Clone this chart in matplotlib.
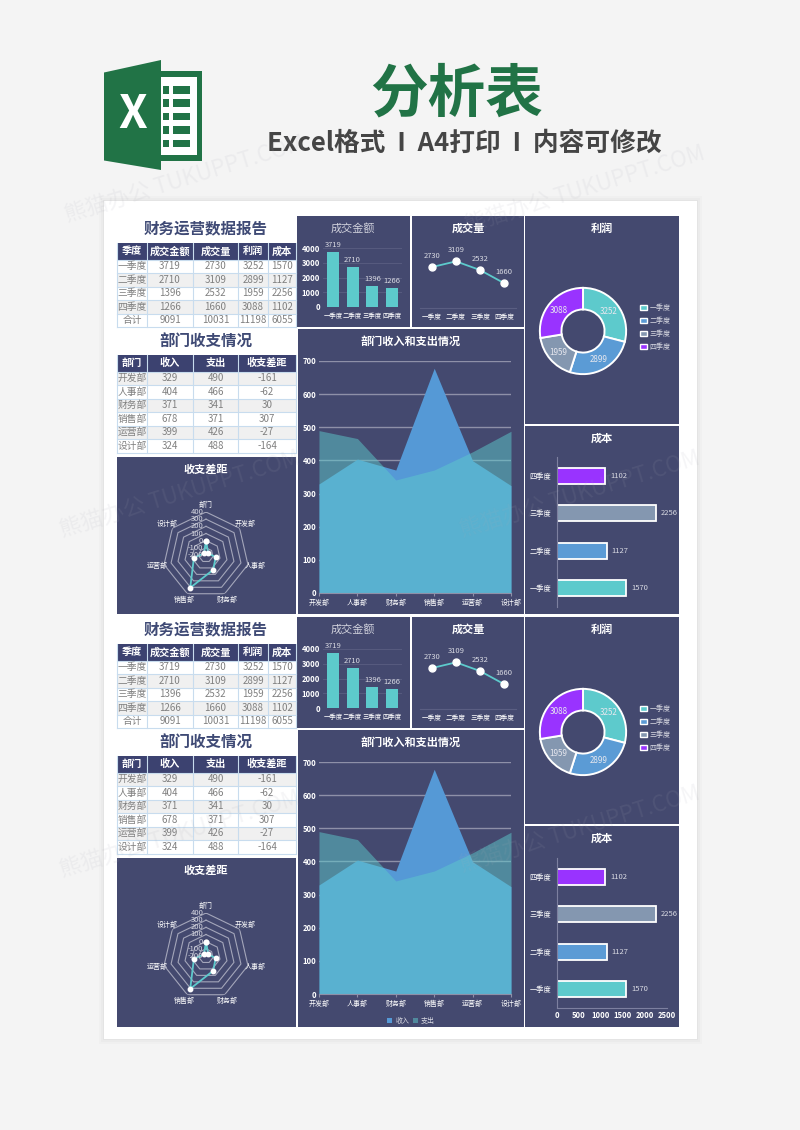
import numpy as np
import matplotlib
matplotlib.use('Agg')
import matplotlib.pyplot as plt
from matplotlib.patches import Rectangle, Polygon, Patch

plt.rcParams['font.family'] = ['Noto Sans CJK SC', 'DejaVu Sans']

W, H = 800, 1130

quarters = ['一季度', '二季度', '三季度', '四季度']
amount = [3719, 2710, 1396, 1266]
volume = [2730, 3109, 2532, 1660]
profit = [3252, 2899, 1959, 3088]
cost = [1570, 1127, 2256, 1102]
totals = ['9091', '10031', '11198', '6055']

depts = ['开发部', '人事部', '财务部', '销售部', '运营部', '设计部']
income = [329, 404, 371, 678, 399, 324]
expense = [490, 466, 341, 371, 426, 488]
diff = [-161, -62, 30, 307, -27, -164]

radar_labels = ['部门'] + depts
radar_values = [0] + diff

quarter_colors = ['#5dcacc', '#5b9bd5', '#8497b0', '#9933ff']

PANEL = '#44496f'
HEAD = '#3c4270'
TEAL = '#5dcacc'
BLUE = '#5599d6'
SOFT = '#d8d9e2'

fig = plt.figure(figsize=(W / 100, H / 100), dpi=100, facecolor='#f4f4f4')

bg = fig.add_axes([0, 0, 1, 1], zorder=-1)
bg.set_xlim(0, W)
bg.set_ylim(H, 0)
bg.axis('off')


def px_axes(x0, y0, x1, y1, **kw):
    a = fig.add_axes([x0 / W, 1 - y1 / H, (x1 - x0) / W, (y1 - y0) / H], **kw)
    a.patch.set_alpha(0)
    return a


def box(x0, y0, x1, y1, color, **kw):
    bg.add_patch(Rectangle((x0, y0), x1 - x0, y1 - y0, facecolor=color, edgecolor='none', **kw))


def label(x, y, s, size=5.5, color='white', weight='normal', **kw):
    bg.text(x, y, s, fontsize=size, color=color, fontweight=weight, ha='center', va='center', **kw)


def draw_table(edges, top, head_h, row_h, header, rows, stripe_first):
    for j, name in enumerate(header):
        box(edges[j], top, edges[j + 1], top + head_h, HEAD)
        label((edges[j] + edges[j + 1]) / 2, top + head_h / 2, name, 7.3, 'white', 'bold')
    for i, row in enumerate(rows):
        y0 = top + head_h + i * row_h
        striped = (i % 2 == 0) == stripe_first
        box(edges[0], y0, edges[-1], y0 + row_h, '#f0f0f0' if striped else 'white')
        for j, val in enumerate(row):
            label((edges[j] + edges[j + 1]) / 2, y0 + row_h / 2, str(val), 7, '#808080')
    bottom = top + head_h + len(rows) * row_h
    for i in range(len(rows) + 1):
        yy = top + head_h + i * row_h
        bg.plot([edges[0], edges[-1]], [yy, yy], color='#c8dcee', lw=0.8)
    for x in edges:
        bg.plot([x, x], [top, bottom], color='#c8dcee', lw=0.8)


def style_ticks(a, cat_size=4.8):
    a.tick_params(colors='white', length=0, pad=2)
    for t in a.get_xticklabels() + a.get_yticklabels():
        t.set_color('white')
        if t.get_text().lstrip('-').isdigit():
            t.set_fontweight('bold')
            t.set_fontsize(5.5)
        else:
            t.set_fontsize(cat_size)


def draw_amount(off):
    a = px_axes(323, 248 + off, 402, 307 + off)
    x = np.arange(len(quarters))
    a.set_axisbelow(True)
    a.bar(x, amount, width=0.6, color=TEAL)
    a.set_xlim(-0.5, 3.5)
    a.set_ylim(0, 4000)
    a.set_yticks([0, 1000, 2000, 3000, 4000])
    a.set_xticks(x, quarters)
    a.grid(axis='y', color='#5a5e82', lw=0.6)
    for s in a.spines.values():
        s.set_visible(False)
    style_ticks(a, 4.6)
    a.tick_params(axis='x', pad=3.5)
    for xi, v in zip(x, amount):
        a.annotate(str(v), (xi, v), xytext=(0, 2.5), textcoords='offset points', color=SOFT,
                   fontsize=5.5, ha='center', va='bottom', annotation_clip=False)


def draw_volume(off):
    a = px_axes(420, 233 + off, 516, 308 + off)
    x = np.arange(len(quarters))
    a.plot(x, volume, color=TEAL, lw=1.3, marker='o', ms=5, mfc='white', mec='white')
    a.set_xlim(-0.5, 3.5)
    a.set_ylim(0, 5000)
    a.set_yticks([])
    a.set_xticks(x, quarters)
    for name, s in a.spines.items():
        s.set_visible(name == 'bottom')
    a.spines['bottom'].set_color('#5a5e82')
    style_ticks(a, 4.8)
    a.tick_params(axis='x', pad=3.5)
    for xi, v in zip(x, volume):
        a.annotate(str(v), (xi, v), xytext=(0, 5), textcoords='offset points', color=SOFT,
                   fontsize=5.5, ha='center', va='bottom')


def draw_donut(cy, legend_y):
    a = px_axes(583 - 44, cy - 44, 583 + 44, cy + 44)
    wedges, _, autos = a.pie(profit, colors=quarter_colors, startangle=90, counterclock=False,
                             radius=1, autopct='%d', pctdistance=0.75,
                             wedgeprops=dict(width=0.5, edgecolor='white', linewidth=1.4))
    for t, v in zip(autos, profit):
        t.set_text(str(v))
        t.set_color('#e6e7ee')
        t.set_fontsize(5.8)
    a.set_xlim(-1.02, 1.02)
    a.set_ylim(-1.02, 1.02)
    handles = [Patch(facecolor=c, edgecolor='white', lw=1) for c in quarter_colors]
    a.legend(handles, quarters, loc='center left', bbox_to_anchor=(634 / W, 1 - legend_y / H),
             bbox_transform=fig.transFigure, frameon=False, fontsize=5, labelcolor=SOFT,
             handlelength=0.9, handleheight=0.9, handletextpad=0.45, labelspacing=0.72)


def draw_cost(top, bottom, show_x):
    a = px_axes(557, top, 667, bottom)
    y = np.arange(len(quarters))
    a.barh(y, cost, height=0.42, color=quarter_colors, edgecolor='white', lw=1.3)
    a.set_xlim(0, 2500)
    a.set_ylim(-0.5, 3.5)
    a.set_yticks(y, quarters)
    a.set_xticks([0, 500, 1000, 1500, 2000, 2500] if show_x else [])
    for name, s in a.spines.items():
        s.set_visible(name == 'left' or (name == 'bottom' and show_x))
        s.set_color('#7d80a0')
    style_ticks(a, 5.2)
    a.tick_params(axis='y', pad=4)
    for yi, v in zip(y, cost):
        a.annotate(str(v), (v, yi), xytext=(3.5, 0), textcoords='offset points', color=SOFT,
                   fontsize=5.5, va='center', annotation_clip=False)


def draw_area(y700, y0, show_legend):
    a = px_axes(319, y700, 511, y0)
    x = np.arange(len(depts))
    a.set_axisbelow(True)
    a.fill_between(x, income, color=BLUE, lw=0, label='收入')
    a.fill_between(x, expense, color=TEAL, alpha=0.5, lw=0, label='支出')
    a.set_xlim(0, 5)
    a.set_ylim(0, 700)
    a.set_xticks(x, depts)
    a.set_yticks(range(0, 701, 100))
    a.grid(axis='y', color='#8e90a8', lw=1)
    for name, s in a.spines.items():
        s.set_visible(name == 'bottom')
    a.spines['bottom'].set_color('#8e90a8')
    style_ticks(a, 5)
    a.tick_params(axis='x', length=2, color='#8e90a8')
    if show_legend:
        a.legend(loc='center', bbox_to_anchor=(411 / W, 1 - 1021 / H), bbox_transform=fig.transFigure,
                 ncol=2, frameon=False, fontsize=5, labelcolor=SOFT, handlelength=0.8,
                 handleheight=0.8, handletextpad=0.4, columnspacing=0.5)


def draw_radar(cy):
    R = 43
    a = px_axes(206 - R, cy - R, 206 + R, cy + R, projection='polar')
    ang = np.linspace(0, 2 * np.pi, len(radar_labels), endpoint=False)
    closed = np.append(ang, ang[0])
    a.set_theta_zero_location('N')
    a.set_theta_direction(-1)
    a.set_ylim(-200, 400)
    levels = [-200, -100, 0, 100, 200, 300, 400]
    for lv in levels[1:]:
        a.plot(closed, [lv] * len(closed), color='#a4a6ba', lw=0.8)
    a.plot(closed, radar_values + radar_values[:1], color=TEAL, lw=1.3, marker='o', ms=3.2,
           mfc='white', mec='white')
    a.grid(False)
    a.spines['polar'].set_visible(False)
    a.set_xticks([])
    a.set_yticks([])
    for th, name in zip(ang, radar_labels):
        a.text(th, 498, name, color='white', fontsize=5, ha='center', va='center', clip_on=False)
    for lv in levels:
        a.annotate(str(lv), (0, lv), xytext=(-2, 0), textcoords='offset points', color=SOFT,
                   fontsize=5.5, ha='right', va='center', annotation_clip=False)


def draw_block(off, area_bottom, radar_bottom, y700, y0, cost_top, cost_bottom, bottom_full, pie_bottom, cost_panel_top):
    # left tables
    label(206, 228 + off, '财务运营数据报告', 11.2, '#3f4a75', 'bold')
    rows1 = [[q, a_, v, p, c] for q, a_, v, p, c in zip(quarters, amount, volume, profit, cost)]
    rows1.append(['合计'] + totals)
    draw_table([117, 147, 193, 238, 268, 296], 243 + off, 16.5, 13.5,
               ['季度', '成交金额', '成交量', '利润', '成本'], rows1, False)
    label(206, 342 + off, '部门收支情况', 11.2, '#3f4a75', 'bold')
    rows2 = [[d, i, e, g] for d, i, e, g in zip(depts, income, expense, diff)]
    draw_table([117, 147, 193, 238, 296], 355 + off, 16.5, 13.5,
               ['部门', '收入', '支出', '收支差距'], rows2, True)

    # panels
    box(117, 457 + off, 296, radar_bottom, PANEL)
    box(297, 216 + off, 410, 327 + off, PANEL)
    box(412, 216 + off, 524, 327 + off, PANEL)
    box(298, 329 + off, 524, area_bottom, PANEL)
    box(525, 216 + off, 679, pie_bottom, PANEL)
    box(525, cost_panel_top, 679, area_bottom, PANEL)

    label(353, 228 + off, '成交金额', 8, '#d0d1dc')
    label(468, 228 + off, '成交量', 8, 'white', 'bold')
    label(602, 228 + off, '利润', 8, 'white', 'bold')
    label(602, cost_panel_top + 12, '成本', 8, 'white', 'bold')
    label(411, y700 - 20, '部门收入和支出情况', 8, 'white', 'bold')
    label(206, 469 + off, '收支差距', 8, 'white', 'bold')

    draw_amount(off)
    draw_volume(off)
    draw_donut(331 + off, 327.5 + off)
    draw_cost(cost_top, cost_bottom, bottom_full)
    draw_area(y700, y0, bottom_full)
    draw_radar(555 + off)


# page sheet with a soft shadow
for grow, shade in [(5, '#f0f0f0'), (3, '#ebebeb'), (1, '#e4e4e4')]:
    box(104 - grow, 201 - grow, 697 + grow, 1039 + grow, shade)
box(104, 201, 697, 1039, 'white')

# excel icon
green = '#217346'
bg.add_patch(Rectangle((161, 71), 41, 90, facecolor=green, edgecolor='none'))
bg.add_patch(Rectangle((161, 77), 36, 78, facecolor='white', edgecolor='none'))
for ry in [86, 99.3, 112.7, 126, 139.5]:
    bg.add_patch(Rectangle((173, ry), 16.5, 7.6, facecolor=green, edgecolor='none'))
    bg.add_patch(Rectangle((163, ry), 5.5, 7.6, facecolor=green, edgecolor='none'))
bg.add_patch(Polygon([(104, 72.5), (161, 60), (161, 170), (104, 160.5)], facecolor=green, edgecolor='none'))
label(133, 115, 'X', 33, 'white', 'bold')

label(457, 95, '分析表', 41.5, green, 'bold')
label(464, 143, 'Excel格式  I  A4打印  I  内容可修改', 18.5, '#454545', 'bold')

draw_block(0, 614, 614, 361, 593, 457, 607, False, 424, 426)
draw_block(401, 1027, 1027, 762, 994, 858, 1008, True, 824, 826)

# watermarks
for wx, wy in [(185, 180), (585, 190), (180, 495), (580, 495), (180, 835), (580, 830)]:
    fig.text(wx / W, 1 - wy / H, '熊猫办公 TUKUPPT.COM', fontsize=16, color='#a8a8b4', alpha=0.11,
             rotation=17, ha='center', va='center', zorder=10)

fig.savefig('out.png', dpi=100, facecolor=fig.get_facecolor())
